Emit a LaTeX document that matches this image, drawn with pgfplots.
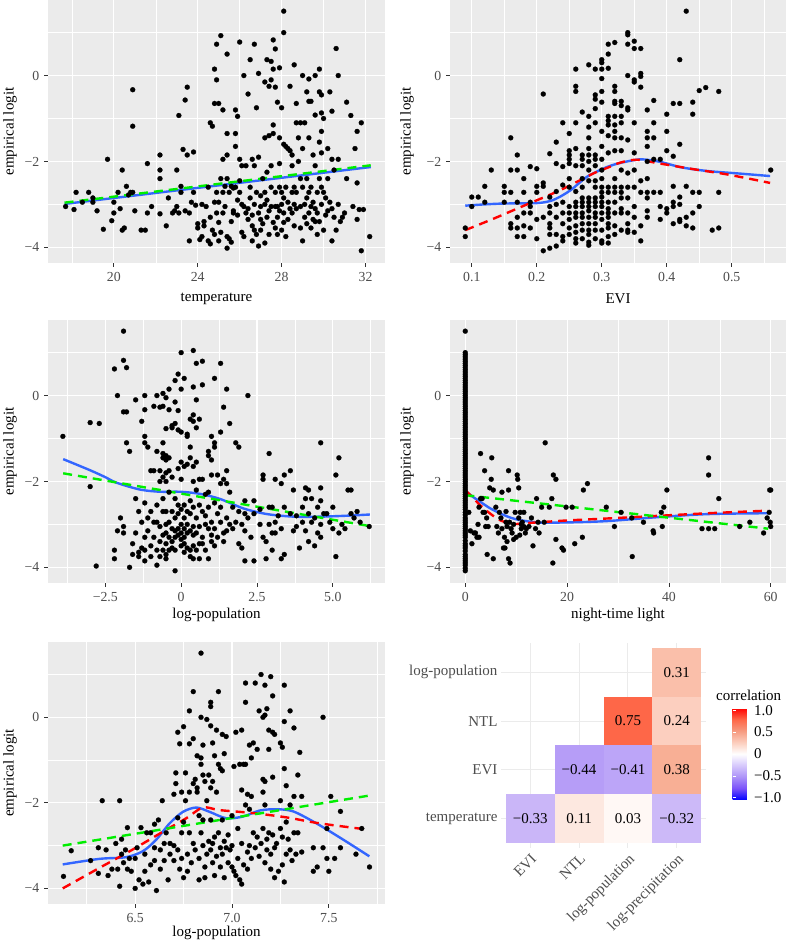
\documentclass[border=0pt]{standalone}
\usepackage{fontspec}
\setmainfont{Liberation Serif}
\usepackage{pgfplots}
\pgfplotsset{compat=1.18}
\definecolor{bggray}{HTML}{EBEBEB}
\definecolor{labgray}{HTML}{4D4D4D}
\definecolor{tickgray}{HTML}{333333}
\definecolor{loessblue}{HTML}{3366FF}
\definecolor{limegreen}{HTML}{00EE00}
\definecolor{hmgrid}{HTML}{EBEBEB}
\definecolor{cA}{HTML}{CAB6F8}
\definecolor{cB}{HTML}{FDE8E0}
\definecolor{cC}{HTML}{FFF8F5}
\definecolor{cD}{HTML}{CCB9F8}
\definecolor{cE}{HTML}{B69DF7}
\definecolor{cF}{HTML}{BCA5F8}
\definecolor{cG}{HTML}{F8AF95}
\definecolor{cH}{HTML}{FE6748}
\definecolor{cI}{HTML}{FCCFBF}
\definecolor{cJ}{HTML}{FABFAA}
\newcommand{\tickfont}{\fontsize{13.8}{15}\selectfont}
\newcommand{\titlefont}{\fontsize{15}{17}\selectfont}
\newcommand{\hmfont}{\fontsize{15}{17}\selectfont}
\pgfplotsset{
  scat/.style={scale only axis, anchor=south west,
    axis background/.style={fill=bggray},
    axis line style={draw=none},
    grid=both,
    major grid style={white, line width=1.1pt},
    minor grid style={white, line width=0.55pt},
    tick align=outside, tick pos=left,
    major tick length=3.6pt, minor tick length=0pt,
    tick style={color=tickgray, line width=0.75pt},
    ticklabel style={font=\tickfont, text=labgray},
    xticklabel style={yshift=-2.5pt},
    yticklabel style={xshift=-1.5pt},
    ymin=-4.365, ymax=1.76,
    ytick={-4,-2,0}, yticklabels={−4,−2,0}, minor ytick={-3,-1,1},
    ylabel={empirical logit},
    label style={font=\titlefont, text=black},
    ylabel style={anchor=center},
    xlabel style={anchor=center},
  },
  pts/.style={only marks, mark=*, mark size=2.5pt, mark options={draw=black, fill=black, line width=0.2pt}},
  loess/.style={no marks, color=loessblue, line width=2.4pt},
  rdash/.style={no marks, color=red, line width=2.4pt, dash pattern=on 9pt off 6pt},
  gdash/.style={no marks, color=limegreen, line width=2.4pt, dash pattern=on 9pt off 6pt},
}
\begin{document}
\begin{tikzpicture}[x=1pt,y=1pt]
\path[use as bounding box] (0,0) rectangle (786,942);

% ---------------- Panel 1: temperature
\begin{axis}[scat, at={(48pt,679pt)}, width=337pt, height=263pt,
  xmin=16.86, xmax=32.93, xtick={20,24,28,32}, xticklabels={20,24,28,32},
  minor xtick={18,22,26,30}, xlabel={temperature},
  xlabel style={at={(axis description cs:0.5,-0.135)}},
  ylabel style={at={(axis description cs:-0.113,0.5)}}]
\addplot[pts] coordinates {
(17.7,-3.05) (18.1,-3.12) (18.2,-2.72) (18.5,-2.95) (18.8,-2.72) (19.0,-2.85) (19.0,-2.95) (19.2,-3.15) (19.5,-3.58) (19.7,-1.95)
(19.9,-3.38) (20.0,-2.95) (20.0,-3.2) (20.2,-2.72) (20.3,-3.1) (20.4,-2.2) (20.4,-3.6) (20.5,-3.55) (20.9,-0.33) (20.6,-2.58)
(20.7,-2.78) (20.8,-2.72) (20.9,-1.18) (20.9,-2.72) (21.0,-3.15) (21.3,-3.6) (21.5,-3.6) (21.6,-2.05) (21.6,-3.2) (21.8,-3.05)
(22.2,-1.85) (22.2,-2.2) (22.2,-2.4) (22.2,-3.22) (22.5,-3.5) (22.6,-2.85) (22.8,-3.2) (22.9,-3.15) (23.0,-3.05) (23.0,-2.2)
(23.1,-0.93) (23.1,-3.2) (23.2,-2.58) (23.2,-2.72) (23.3,-1.72) (23.4,-3.15) (23.4,-0.57) (23.5,-0.27) (23.5,-1.85) (23.6,-3.85)
(23.6,-3.2) (23.7,-2.95) (23.8,-1.78) (23.8,-2.72) (23.9,-3.02) (24.0,-3.45) (24.0,-3.55) (24.1,-3.82) (24.2,-3.0) (24.2,-3.75)
(24.3,-3.5) (24.4,-3.05) (24.5,-3.85) (24.5,-2.6) (24.6,-3.92) (24.6,-3.3) (24.6,-1.1) (24.7,-1.18) (24.7,-3.6) (24.8,-2.95)
(24.8,-0.65) (24.8,0.15) (24.8,-3.7) (24.9,-0.1) (24.9,0.73) (24.9,-2.72) (25.0,-0.65) (25.0,-3.42) (25.0,-3.85) (25.0,-2.95)
(25.1,0.93) (25.1,-3.65) (25.1,-2.4) (25.2,-1.95) (25.2,-2.72) (25.2,-0.8) (25.3,-3.05) (25.3,-2.58) (25.4,0.5) (25.4,-1.35)
(25.4,-1.85) (25.4,-2.4) (25.4,-3.75) (25.4,-4.02) (25.5,-2.72) (25.5,-3.8) (25.6,-2.58) (25.6,-3.88) (25.7,-3.2) (25.7,-2.62)
(25.7,-3.15) (25.8,-0.8) (25.8,-1.35) (25.8,-1.65) (25.8,-2.6) (25.9,-0.95) (25.9,-3.25) (26.0,0.78) (26.0,-1.95) (26.0,-2.45)
(26.1,-3.0) (26.1,-3.65) (26.1,-2.1) (26.2,0.0) (26.2,-3.05) (26.2,-3.75) (26.3,-2.1) (26.3,-3.2) (26.4,-0.43) (26.4,-3.35)
(26.5,-2.85) (26.5,0.37) (26.5,-2.6) (26.6,-3.5) (26.6,-1.95) (26.6,-3.85) (26.7,-3.0) (26.7,-2.1) (26.7,0.73) (26.7,-3.6)
(26.8,-0.75) (26.8,-2.72) (26.8,-3.7) (26.9,-3.97) (26.9,-1.9) (26.9,-3.2) (26.9,0.05) (27.0,-3.6) (27.0,-3.05) (27.0,-2.8)
(27.1,-2.4) (27.1,-3.45) (27.2,-0.15) (27.2,-1.45) (27.2,-3.0) (27.2,-3.9) (27.3,0.37) (27.3,-2.25) (27.3,-2.9) (27.3,-3.3)
(27.4,-1.4) (27.4,-0.25) (27.4,-3.7) (27.5,-0.1) (27.5,0.33) (27.5,-2.1) (27.5,-2.6) (27.5,-3.05) (27.6,-1.15) (27.6,-1.35)
(27.6,0.15) (27.6,0.83) (27.6,-3.42) (27.7,0.62) (27.7,-0.27) (27.7,-3.05) (27.7,-2.72) (27.8,-0.62) (27.8,-3.7) (27.8,-3.3)
(27.9,0.18) (27.9,-1.45) (27.9,-2.05) (27.9,-2.6) (27.9,-3.15) (28.0,-0.75) (28.0,-3.6) (28.0,-2.72) (28.0,-3.0) (28.1,1.5)
(28.1,1.0) (28.1,-1.6) (28.1,-3.2) (28.1,-3.42) (28.2,-1.65) (28.2,-2.6) (28.2,-3.75) (28.3,-1.7) (28.3,-2.95) (28.4,-0.25)
(28.4,-1.75) (28.4,-3.1) (28.5,-2.1) (28.5,-1.85) (28.5,-2.72) (28.6,0.25) (28.6,-3.0) (28.6,-3.5) (28.7,-1.1) (28.7,-0.65)
(28.7,-2.72) (28.7,-3.1) (28.8,-1.45) (28.8,-2.0) (28.9,-1.1) (28.9,-3.55) (28.9,-2.4) (29.0,0.0) (29.0,-1.7) (29.0,-2.6)
(29.0,-3.85) (29.1,-1.1) (29.1,-3.0) (29.1,-3.3) (29.2,-0.38) (29.2,-2.4) (29.2,-3.45) (29.3,-0.08) (29.3,-1.45) (29.3,-0.6)
(29.3,-2.72) (29.3,-3.2) (29.4,-0.6) (29.4,-2.6) (29.4,-3.05) (29.4,-3.55) (29.5,-1.85) (29.5,-2.95) (29.5,-3.35) (29.6,0.0)
(29.6,-0.92) (29.6,-2.1) (29.6,-3.1) (29.7,-3.7) (29.7,-2.72) (29.8,0.15) (29.8,-0.38) (29.8,-1.55) (29.8,-2.4) (29.8,-3.4)
(29.9,-0.45) (29.9,-0.87) (29.9,-1.3) (29.9,-1.8) (29.9,-2.6) (29.9,-3.0) (30.0,-1.0) (30.0,-2.72) (30.0,-3.6) (30.1,-3.25)
(30.2,-1.7) (30.2,-2.4) (30.2,-3.15) (30.3,-0.38) (30.3,-2.95) (30.4,-1.95) (30.4,-0.83) (30.4,-3.85) (30.5,-2.2) (30.5,-3.3)
(30.6,0.63) (30.6,-3.6) (30.7,0.0) (30.7,-1.95) (30.7,-3.0) (30.8,-3.4) (31.0,-3.2) (31.1,-0.62) (31.1,-2.4) (31.3,-0.93)
(31.4,-3.05) (31.5,-1.7) (31.6,-1.3) (31.6,-2.5) (31.6,-3.35) (31.7,-3.12) (31.8,-1.1) (31.8,-4.08) (31.9,-3.12) (32.2,-3.75)
(24.3,-3.4) (25.2,-3.2) (25.9,-2.9) (26.4,-3.1) (26.6,-3.25) (27.0,-3.35) (27.4,-3.15) (27.7,-3.55) (28.3,-3.35) (28.5,-3.2)
(28.9,-3.05) (29.2,-2.85) (29.6,-3.4) (30.1,-2.85) (30.4,-3.1) (28.1,-2.85) (27.2,-2.72) (26.0,-2.72) (25.6,-3.4) (24.9,-3.2)
(27.8,-3.05) (28.6,-2.6) (29.7,-3.2) (30.9,-3.3)
};
\addplot[loess] coordinates {(17.65,-2.99) (32.25,-2.13)};
\addplot[gdash] coordinates {(17.65,-2.96) (32.25,-2.09)};
\end{axis}

% ---------------- Panel 2: EVI
\begin{axis}[scat, at={(450pt,679pt)}, width=336pt, height=263pt,
  xmin=0.0665, xmax=0.5835, xtick={0.1,0.2,0.3,0.4,0.5}, xticklabels={0.1,0.2,0.3,0.4,0.5},
  minor xtick={0.15,0.25,0.35,0.45,0.55}, xlabel={EVI},
  xlabel style={at={(axis description cs:0.5,-0.135)}},
  ylabel style={at={(axis description cs:-0.128,0.5)}}]
\addplot[pts] coordinates {
(0.09,-3.55) (0.09,-3.75) (0.10,-2.83) (0.10,-3.05) (0.11,-2.83) (0.12,-2.58) (0.12,-2.95) (0.13,-2.2) (0.15,-2.58) (0.15,-2.72)
(0.15,-2.95) (0.16,-1.45) (0.16,-2.2) (0.16,-2.72) (0.16,-3.45) (0.16,-3.55) (0.17,-1.85) (0.17,-2.2) (0.17,-2.95) (0.17,-3.3)
(0.17,-3.55) (0.17,-3.75) (0.18,-2.4) (0.18,-2.72) (0.18,-3.2) (0.18,-3.5) (0.18,-3.75) (0.19,-2.12) (0.19,-2.95) (0.19,-3.05)
(0.19,-3.2) (0.19,-3.55) (0.20,-2.17) (0.20,-2.58) (0.20,-2.72) (0.20,-3.35) (0.20,-3.8) (0.21,-0.43) (0.21,-2.5) (0.21,-2.58)
(0.21,-3.3) (0.21,-4.08) (0.22,-1.82) (0.22,-2.83) (0.22,-3.05) (0.22,-3.2) (0.22,-3.45) (0.22,-3.55) (0.22,-3.7) (0.22,-4.02)
(0.23,-1.55) (0.23,-2.05) (0.23,-2.7) (0.23,-3.0) (0.23,-3.3) (0.23,-3.7) (0.23,-3.97) (0.24,-1.1) (0.24,-2.12) (0.24,-2.55)
(0.24,-2.95) (0.24,-3.2) (0.24,-3.45) (0.24,-3.75) (0.24,-3.85) (0.25,-1.35) (0.25,-1.75) (0.25,-1.85) (0.25,-1.95) (0.25,-2.05)
(0.25,-2.4) (0.25,-2.6) (0.25,-3.05) (0.25,-3.2) (0.25,-3.35) (0.25,-3.55) (0.25,-3.7) (0.26,0.15) (0.26,-0.25) (0.26,-0.37)
(0.26,-1.1) (0.26,-1.7) (0.26,-2.1) (0.26,-2.7) (0.26,-2.95) (0.26,-3.05) (0.26,-3.2) (0.26,-3.3) (0.26,-3.5) (0.26,-3.65)
(0.26,-3.8) (0.26,-3.9) (0.27,-0.85) (0.27,-1.85) (0.27,-1.95) (0.27,-2.1) (0.27,-2.4) (0.27,-2.6) (0.27,-2.85) (0.27,-2.95)
(0.27,-3.05) (0.27,-3.2) (0.27,-3.3) (0.27,-3.45) (0.27,-3.6) (0.27,-3.8) (0.28,0.25) (0.28,-0.95) (0.28,-1.2) (0.28,-1.45)
(0.28,-1.7) (0.28,-1.85) (0.28,-2.0) (0.28,-2.2) (0.28,-2.45) (0.28,-2.85) (0.28,-2.95) (0.28,-3.05) (0.28,-3.15) (0.28,-3.3)
(0.28,-3.45) (0.28,-3.6) (0.28,-3.7) (0.28,-3.88) (0.28,-3.95) (0.29,0.15) (0.29,-0.45) (0.29,-0.55) (0.29,-0.77) (0.29,-1.1)
(0.29,-1.85) (0.29,-1.95) (0.29,-2.1) (0.29,-2.45) (0.29,-2.6) (0.29,-2.85) (0.29,-2.95) (0.29,-3.05) (0.29,-3.2) (0.29,-3.3)
(0.29,-3.45) (0.29,-3.6) (0.29,-3.8) (0.30,0.37) (0.30,0.3) (0.30,0.15) (0.30,-0.07) (0.30,-0.37) (0.30,-0.62) (0.30,-1.3)
(0.30,-1.65) (0.30,-1.95) (0.30,-2.2) (0.30,-2.4) (0.30,-2.6) (0.30,-2.72) (0.30,-2.83) (0.30,-2.95) (0.30,-3.05) (0.30,-3.2)
(0.30,-3.35) (0.30,-3.6) (0.30,-3.85) (0.30,-3.9) (0.31,0.73) (0.31,0.5) (0.31,0.17) (0.31,-0.95) (0.31,-1.05) (0.31,-1.15)
(0.31,-1.4) (0.31,-1.8) (0.31,-2.6) (0.31,-2.72) (0.31,-2.95) (0.31,-3.1) (0.31,-3.2) (0.31,-3.3) (0.31,-3.45) (0.31,-3.55)
(0.31,-3.75) (0.31,-3.9) (0.32,0.77) (0.32,-0.25) (0.32,-0.37) (0.32,-0.6) (0.32,-0.65) (0.32,-0.95) (0.32,-1.15) (0.32,-1.3)
(0.32,-1.45) (0.32,-1.75) (0.32,-2.4) (0.32,-2.6) (0.32,-2.72) (0.32,-2.95) (0.32,-3.2) (0.32,-3.5) (0.32,-3.7) (0.33,-0.6)
(0.33,-0.7) (0.33,-0.95) (0.33,-1.1) (0.33,-1.45) (0.33,-1.75) (0.33,-2.2) (0.33,-2.6) (0.33,-2.72) (0.33,-2.85) (0.33,-3.1)
(0.33,-3.2) (0.33,-3.6) (0.34,1.0) (0.34,0.95) (0.34,0.73) (0.34,0.0) (0.34,-0.75) (0.34,-0.8) (0.34,-1.5) (0.34,-2.27)
(0.34,-2.6) (0.34,-2.85) (0.34,-3.2) (0.34,-3.45) (0.34,-3.6) (0.34,-3.65) (0.35,0.8) (0.35,0.63) (0.35,-0.1) (0.35,-0.15)
(0.35,-1.1) (0.35,-1.8) (0.35,-2.2) (0.35,-2.6) (0.35,-3.05) (0.35,-3.3) (0.35,-3.65) (0.36,0.63) (0.36,0.05) (0.36,-0.02)
(0.36,-0.27) (0.36,-2.45) (0.36,-2.72) (0.36,-3.5) (0.36,-3.85) (0.37,-0.8) (0.37,-1.3) (0.37,-1.45) (0.37,-1.65) (0.37,-2.0)
(0.37,-2.4) (0.37,-2.72) (0.37,-2.85) (0.37,-3.15) (0.37,-3.3) (0.38,-0.58) (0.38,-1.1) (0.38,-1.45) (0.38,-1.95) (0.38,-2.72)
(0.39,-1.95) (0.39,-2.72) (0.39,-3.05) (0.39,-3.35) (0.40,-0.9) (0.40,-1.3) (0.40,-1.75) (0.40,-3.1) (0.40,-3.2) (0.41,-0.65)
(0.41,-1.88) (0.41,-2.58) (0.41,-2.95) (0.41,-3.05) (0.41,-3.45) (0.42,0.37) (0.42,-0.65) (0.42,-1.6) (0.42,-2.83) (0.42,-3.0)
(0.42,-3.35) (0.42,-3.4) (0.43,1.5) (0.43,-2.58) (0.43,-3.3) (0.43,-3.5) (0.44,-0.62) (0.44,-0.9) (0.44,-2.72) (0.44,-3.2)
(0.44,-3.55) (0.45,-0.35) (0.45,-2.72) (0.45,-3.05) (0.46,-0.28) (0.47,-3.6) (0.48,-0.37) (0.48,-2.72) (0.48,-3.55) (0.56,-2.2)
};
\addplot[loess, smooth] coordinates {(0.09,-3.03) (0.12,-3.0) (0.15,-2.98) (0.2,-2.97) (0.221,-2.92) (0.236,-2.82) (0.252,-2.67) (0.264,-2.52) (0.277,-2.36) (0.292,-2.24) (0.308,-2.13) (0.322,-2.06) (0.339,-2.0) (0.359,-1.95) (0.374,-1.97) (0.39,-2.01) (0.405,-2.07) (0.42,-2.13) (0.44,-2.18) (0.467,-2.23) (0.51,-2.28) (0.559,-2.34)};
\addplot[rdash, smooth] coordinates {(0.09,-3.6) (0.134,-3.33) (0.185,-3.0) (0.236,-2.67) (0.287,-2.28) (0.31,-2.14) (0.328,-2.03) (0.354,-1.96) (0.39,-2.05) (0.441,-2.18) (0.492,-2.30) (0.559,-2.5)};
\end{axis}

% ---------------- Panel 3: log-population
\begin{axis}[scat, at={(48pt,359pt)}, width=337pt, height=263pt,
  xmin=-4.39, xmax=6.72, xtick={-2.5,0,2.5,5}, xticklabels={−2.5,0,2.5,5.0},
  minor xtick={-3.75,-1.25,1.25,3.75,6.25}, xlabel={log-population},
  xlabel style={at={(axis description cs:0.5,-0.12)}},
  ylabel style={at={(axis description cs:-0.113,0.5)}}]
\addplot[pts] coordinates {
(-3.9,-0.95) (-3.0,-0.63) (-3.0,-2.12) (-2.7,-0.65) (-2.8,-3.97) (-2.2,0.62) (-2.2,-3.6) (-2.2,-3.8) (-2.1,0.0) (-2.1,-3.15)
(-2.0,-2.85) (-1.9,1.5) (-1.9,0.82) (-1.9,-0.38) (-1.9,-3.05) (-1.9,-3.2) (-1.8,0.65) (-1.8,-0.38) (-1.8,-1.1) (-1.7,-1.3)
(-1.7,-4.0) (-1.5,-0.1) (-1.5,-2.4) (-1.5,-3.2) (-1.6,-3.45) (-1.6,-3.7) (-1.4,-2.7) (-1.4,-3.65) (-1.4,-3.75) (-1.3,-0.6)
(-1.3,-2.95) (-1.3,-3.55) (-1.2,0.0) (-1.2,-0.33) (-1.2,-0.95) (-1.2,-1.1) (-1.2,-2.5) (-1.2,-3.3) (-1.2,-3.6) (-1.2,-3.85)
(-1.1,-1.2) (-1.1,-2.85) (-1.1,-3.15) (-1.0,-1.75) (-1.0,-2.7) (-1.0,-3.5) (-1.0,-3.75) (-0.9,-0.25) (-0.9,-1.75) (-0.9,-2.95)
(-0.9,-3.3) (-0.8,0.0) (-0.8,-1.3) (-0.8,-2.55) (-0.8,-2.95) (-0.8,-3.6) (-0.8,-3.95) (-0.7,-0.27) (-0.7,-1.75) (-0.7,-2.0)
(-0.7,-3.05) (-0.7,-3.4) (-0.7,-3.75) (-0.6,0.05) (-0.6,-0.25) (-0.6,-1.1) (-0.6,-1.35) (-0.6,-1.45) (-0.6,-1.9) (-0.6,-2.4)
(-0.6,-2.7) (-0.6,-3.25) (-0.6,-3.6) (-0.5,-0.05) (-0.5,-0.77) (-0.5,-1.4) (-0.5,-1.5) (-0.5,-1.8) (-0.5,-2.0) (-0.5,-2.7)
(-0.5,-3.0) (-0.5,-3.2) (-0.5,-3.45) (-0.5,-3.7) (-0.5,-3.8) (-0.4,0.15) (-0.4,-0.33) (-0.4,-1.45) (-0.4,-1.75) (-0.4,-2.25)
(-0.4,-2.95) (-0.4,-3.3) (-0.4,-3.6) (-0.3,-0.7) (-0.3,-0.75) (-0.3,-1.9) (-0.3,-2.7) (-0.3,-3.1) (-0.3,-3.4) (-0.3,-3.55)
(-0.2,0.35) (-0.2,-0.15) (-0.2,-0.65) (-0.2,-2.4) (-0.2,-2.85) (-0.2,-3.15) (-0.2,-3.3) (-0.2,-3.6) (-0.2,-4.08) (-0.1,0.5)
(-0.1,-0.35) (-0.1,-0.8) (-0.1,-1.7) (-0.1,-2.55) (-0.1,-2.75) (-0.1,-3.1) (-0.1,-3.25) (0.0,0.15) (0.0,-0.85) (0.0,-1.55)
(0.0,-1.95) (0.0,-2.65) (0.0,-3.0) (0.0,-3.2) (0.0,-3.35) (0.0,-3.5) (0.0,1.0) (0.1,-1.65) (0.1,-2.55) (0.1,-2.85)
(0.1,-3.1) (0.1,-3.3) (0.1,-3.45) (0.1,-3.65) (0.1,0.4) (0.2,-0.9) (0.2,-0.95) (0.2,-1.6) (0.2,-2.7) (0.2,-3.0)
(0.2,-3.2) (0.2,-3.55) (0.3,-0.55) (0.3,-1.2) (0.3,-1.45) (0.3,-2.45) (0.3,-2.75) (0.3,-3.15) (0.3,-3.6) (0.3,-3.75)
(0.4,1.05) (0.4,0.2) (0.4,-0.45) (0.4,-0.6) (0.4,-1.65) (0.4,-2.0) (0.4,-2.6) (0.4,-3.05) (0.4,-3.25) (0.4,-3.5)
(0.4,-3.8) (0.5,0.75) (0.5,-0.1) (0.5,-0.75) (0.5,-1.55) (0.5,-2.2) (0.5,-2.85) (0.5,-3.2) (0.5,-3.6) (0.6,-0.55)
(0.6,-1.95) (0.6,-2.55) (0.6,-3.05) (0.6,-3.45) (0.6,-3.8) (0.7,0.8) (0.7,0.25) (0.7,-1.95) (0.7,-2.7) (0.7,-3.3)
(0.7,-3.45) (0.8,-2.3) (0.8,-2.8) (0.8,-3.0) (0.8,-3.6) (0.9,-1.3) (0.9,-1.4) (0.9,-2.25) (0.9,-2.6) (0.9,-3.1)
(0.9,-3.8) (1.0,-0.95) (1.0,-1.5) (1.0,-1.85) (1.0,-2.95) (1.0,-3.25) (1.0,-3.4) (1.1,0.4) (1.1,-1.1) (1.1,-1.2)
(1.1,-2.5) (1.1,-3.1) (1.1,-3.5) (1.2,-1.85) (1.2,-2.75) (1.2,-3.3) (1.3,0.75) (1.3,-0.85) (1.3,-2.05) (1.3,-2.6)
(1.3,-2.95) (1.4,-0.27) (1.4,-1.95) (1.4,-3.2) (1.4,-3.4) (1.5,0.15) (1.5,-1.75) (1.5,-2.05) (1.5,-2.85) (1.5,-3.15)
(1.6,-0.65) (1.6,-2.25) (1.6,-3.0) (1.7,-2.6) (1.7,-3.1) (1.8,-1.1) (1.8,-2.95) (1.9,-1.2) (1.9,-2.7) (1.9,-3.45)
(2.0,-3.0) (2.0,-3.55) (2.1,-2.45) (2.1,-2.75) (2.1,-3.15) (2.1,-3.85) (2.2,0.0) (2.2,-2.85) (2.3,-3.3) (2.4,-2.45)
(2.4,-2.75) (2.4,-3.85) (2.6,-2.65) (2.6,-3.0) (2.7,-1.85) (2.7,-1.95) (2.7,-3.3) (2.8,-3.4) (2.8,-3.8) (2.9,-2.6)
(2.9,-3.0) (2.9,-1.35) (3.0,-2.6) (3.0,-3.2) (3.0,-3.6) (3.1,-1.95) (3.1,-2.95) (3.1,-3.2) (3.2,-2.8) (3.3,-2.05)
(3.3,-3.1) (3.3,-3.8) (3.4,-1.85) (3.4,-2.6) (3.4,-3.7) (3.6,-1.75) (3.6,-2.75) (3.7,-2.2) (3.7,-3.15) (3.8,-2.8)
(3.8,-3.05) (3.9,-3.55) (4.0,-2.6) (4.0,-2.95) (4.1,-2.15) (4.1,-2.4) (4.1,-3.15) (4.2,-2.2) (4.2,-2.75) (4.2,-3.4)
(4.3,-2.4) (4.3,-2.95) (4.4,-3.5) (4.4,-2.85) (4.5,-2.6) (4.5,-3.2) (4.6,-1.1) (4.6,-2.15) (4.6,-2.45) (4.6,-3.0)
(4.6,-3.3) (4.7,-2.75) (4.8,-2.75) (4.9,-2.95) (5.0,-2.6) (5.0,-3.1) (5.1,-1.85) (5.1,-3.75) (5.2,-1.45) (5.2,-3.2)
(5.3,-3.0) (5.4,-3.1) (5.5,-2.2) (5.6,-2.2) (5.6,-2.75) (5.7,-2.85) (5.8,-2.7) (5.9,-2.95) (6.2,-3.05)
};
\addplot[loess, smooth] coordinates {(-3.89,-1.48) (-3.0,-1.74) (-2.5,-1.9) (-2.13,-2.03) (-1.35,-2.19) (-0.69,-2.24) (-0.03,-2.24) (0.63,-2.29) (1.29,-2.41) (2.06,-2.63) (2.83,-2.76) (3.71,-2.82) (4.59,-2.82) (5.4,-2.8) (6.22,-2.77)};
\addplot[gdash] coordinates {(-3.89,-1.81) (6.3,-3.05)};
\end{axis}

% ---------------- Panel 4: night-time light
\begin{axis}[scat, at={(450pt,359pt)}, width=336pt, height=263pt,
  xmin=-3, xmax=63, xtick={0,20,40,60}, xticklabels={0,20,40,60},
  minor xtick={10,30,50}, xlabel={night-time light},
  xlabel style={at={(axis description cs:0.5,-0.12)}},
  ylabel style={at={(axis description cs:-0.128,0.5)}}]
\addplot[pts] coordinates {
(0,-4.08) (0,-4.02) (0,-3.95) (0,-3.9) (0,-3.85) (0,-3.8) (0,-3.75) (0,-3.7) (0,-3.62) (0,-3.55) (0,-3.5) (0,-3.45) (0,-3.38)
(0,-3.3) (0,-3.25) (0,-3.2) (0,-3.15) (0,-3.1) (0,-3.05) (0,-3.0) (0,-2.95) (0,-2.9) (0,-2.85) (0,-2.78) (0,-2.72) (0,-2.65)
(0,-2.6) (0,-2.55) (0,-2.5) (0,-2.45) (0,-2.4) (0,-2.35) (0,-2.3) (0,-2.25) (0,-2.2) (0,-2.15) (0,-2.1) (0,-2.05) (0,-2.0)
(0,-1.95) (0,-1.9) (0,-1.85) (0,-1.8) (0,-1.75) (0,-1.7) (0,-1.65) (0,-1.6) (0,-1.55) (0,-1.5) (0,-1.45) (0,-1.4) (0,-1.35)
(0,-1.3) (0,-1.25) (0,-1.2) (0,-1.15) (0,-1.1) (0,-1.05) (0,-1.0) (0,-0.95) (0,-0.9) (0,-0.85) (0,-0.8) (0,-0.75) (0,-0.7)
(0,-0.65) (0,-0.6) (0,-0.55) (0,-0.5) (0,-0.45) (0,-0.4) (0,-0.35) (0,-0.3) (0,-0.25) (0,-0.2) (0,-0.15) (0,-0.1) (0,-0.05)
(0,0) (0,0.05) (0,0.1) (0,0.15) (0,0.2) (0,0.25) (0,0.3) (0,0.35) (0,0.4) (0,0.45) (0,0.5) (0,0.55) (0,0.6) (0,0.65) (0,0.7)
(0,0.75) (0,0.8) (0,0.85) (0,0.9) (0,0.95) (0,1.0) (0,1.5)
(0.7,-2.72) (1.0,-3.15) (1.3,-3.45) (1.7,-3.2) (2.0,-3.2) (2.3,-3.3) (2.5,-3.0) (2.7,-3.3) (2.7,-2.6) (3.0,-2.4)
(3.0,-1.35) (3.3,-2.4) (3.5,-2.72) (3.8,-1.75) (3.8,-2.72) (4.0,-3.05) (4.2,-2.85) (4.3,-3.7) (4.5,-3.05) (4.8,-2.15)
(5.1,-1.95) (5.2,-1.45) (5.5,-2.2) (5.5,-3.8) (6.0,-2.6) (6.2,-3.05) (6.5,-3.2) (6.7,-2.72) (7.0,-2.85) (7.2,-2.25)
(7.2,-3.1) (7.5,-3.55) (7.7,-3.3) (7.8,-3.55) (8.0,-2.95) (8.0,-2.7) (8.2,-3.05) (8.2,-3.4) (8.5,-1.75) (8.5,-2.2)
(8.5,-3.8) (8.8,-3.9) (8.7,-2.95) (9.0,-3.1) (9.2,-3.2) (9.5,-3.0) (9.5,-3.35) (9.8,-2.72) (10.0,-3.3) (10.2,-1.85)
(10.3,-1.95) (10.5,-2.15) (10.5,-2.85) (10.7,-3.25) (10.8,-2.72) (11.0,-3.0) (11.0,-3.1) (11.2,-2.95) (11.5,-2.72) (11.5,-3.05)
(11.8,-3.2) (12.0,-3.1) (12.5,-3.05) (13.0,-2.85) (13.3,-3.5) (13.8,-3.1) (14.0,-2.4) (14.3,-2.95) (14.5,-3.2) (15.0,-2.6)
(15.7,-1.1) (15.5,-2.95) (16.5,-2.6) (17.0,-2.4) (17.3,-1.85) (17.2,-3.9) (17.8,-1.95) (17.8,-3.35) (19.0,-3.55) (19.3,-3.6)
(19.8,-2.6) (21.0,-2.6) (21.5,-3.45) (23.0,-3.3) (23.2,-2.2) (24.0,-2.05) (27.7,-2.6) (29.3,-3.05) (30.6,-2.72) (32.7,-2.85)
(32.8,-3.75) (35.0,-2.95) (36.9,-3.15) (37.0,-3.2) (38.5,-2.72) (38.7,-3.05) (39.0,-2.6) (39.6,-2.2) (46.5,-3.1) (47.8,-1.45)
(47.8,-1.85) (47.8,-3.1) (49.0,-3.1) (49.8,-2.4) (53.9,-3.05) (55.9,-2.95) (58.6,-3.2) (59.3,-2.85) (59.7,-2.72) (59.8,-2.2)
(59.9,-2.95) (60.0,-3.05) (60.0,-2.2)
};
\addplot[loess, smooth] coordinates {(0,-2.22) (1.5,-2.36) (2.9,-2.47) (4.8,-2.62) (6.8,-2.74) (8.8,-2.84) (10.7,-2.9) (13,-2.94) (15.3,-2.96) (21.8,-2.95) (28.3,-2.92) (38,-2.83) (47.8,-2.76) (59.5,-2.74)};
\addplot[rdash, smooth] coordinates {(0,-2.2) (1.5,-2.38) (2.9,-2.55) (4.8,-2.74) (6.8,-2.9) (9.4,-2.99) (13.3,-2.96) (19.8,-2.91) (28.3,-2.86) (38,-2.8) (47.8,-2.74) (59.5,-2.68)};
\addplot[gdash] coordinates {(0,-2.32) (59.5,-3.1)};
\end{axis}

% ---------------- Panel 5: log-population (second)
\begin{axis}[scat, at={(48pt,38pt)}, width=337pt, height=262pt,
  xmin=6.05, xmax=7.79, xtick={6.5,7.0,7.5}, xticklabels={6.5,7.0,7.5},
  minor xtick={6.25,6.75,7.25,7.75}, xlabel={log-population},
  xlabel style={at={(axis description cs:0.5,-0.112)}},
  ylabel style={at={(axis description cs:-0.113,0.5)}}]
\addplot[pts] coordinates {
(6.13,-3.72) (6.17,-3.12) (6.27,-3.35) (6.31,-3.05) (6.31,-3.65) (6.33,-1.95) (6.35,-3.1) (6.36,-3.7) (6.38,-3.55) (6.4,-2.95)
(6.41,-3.55) (6.42,-3.95) (6.42,-1.95) (6.43,-2.85) (6.43,-3.2) (6.44,-3.4) (6.45,-3.1) (6.46,-2.58) (6.46,-3.55) (6.47,-3.3)
(6.48,-3.6) (6.5,-3.3) (6.5,-4.0) (6.51,-3.05) (6.52,-3.8) (6.53,-2.58) (6.54,-3.9) (6.55,-3.2) (6.55,-3.6) (6.56,-2.7)
(6.57,-3.85) (6.58,-2.7) (6.58,-3.45) (6.6,-2.5) (6.6,-3.05) (6.6,-3.35) (6.61,-4.05) (6.62,-2.4) (6.63,-3.1) (6.63,-3.55)
(6.64,-1.95) (6.65,-2.95) (6.65,-3.35) (6.66,-2.7) (6.67,-3.8) (6.68,-2.95) (6.68,-3.2) (6.7,-1.8) (6.7,-3.0) (6.7,-3.35)
(6.71,-1.3) (6.71,-1.55) (6.72,-0.35) (6.72,-2.35) (6.72,-3.1) (6.73,-0.62) (6.73,-3.55) (6.74,-1.75) (6.74,-2.7) (6.74,-3.3)
(6.75,-0.22) (6.75,-2.45) (6.75,-3.75) (6.76,-1.3) (6.76,-1.95) (6.77,-3.2) (6.77,-3.6) (6.78,0.15) (6.78,-0.62) (6.78,-1.75)
(6.78,-2.7) (6.79,-3.4) (6.8,0.6) (6.8,-0.5) (6.8,-1.55) (6.8,-2.95) (6.81,-3.1) (6.81,-1.45) (6.82,-0.9) (6.82,-1.65)
(6.82,-1.75) (6.83,-2.3) (6.83,-3.3) (6.83,-3.8) (6.84,1.5) (6.84,0.0) (6.84,-0.95) (6.84,-1.1) (6.84,-2.7) (6.85,-0.65)
(6.85,-1.35) (6.85,-2.4) (6.85,-3.0) (6.86,-1.5) (6.86,-3.5) (6.86,-3.75) (6.87,-0.05) (6.87,-1.95) (6.87,-3.2) (6.88,-1.35)
(6.88,-2.9) (6.89,0.35) (6.89,0.25) (6.89,-0.2) (6.89,-1.65) (6.89,-2.4) (6.89,-3.1) (6.9,-0.6) (6.9,-1.5) (6.9,-2.95)
(6.9,-3.4) (6.91,-0.9) (6.91,-2.8) (6.91,-3.7) (6.92,-0.3) (6.92,-1.75) (6.92,-3.25) (6.93,0.6) (6.93,-1.1) (6.93,-2.7)
(6.94,-1.2) (6.94,-3.05) (6.94,-3.5) (6.95,-0.4) (6.95,-1.25) (6.95,-2.4) (6.95,-3.2) (6.96,-0.85) (6.96,-2.9) (6.96,-3.75)
(6.97,-0.45) (6.97,-3.05) (6.98,-2.75) (6.98,-3.4) (6.99,-3.1) (7.0,-2.3) (7.0,-3.0) (7.0,-3.5) (7.01,-1.15) (7.01,-3.6)
(7.02,-0.35) (7.02,-3.7) (7.03,-2.6) (7.03,-3.3) (7.04,-1.1) (7.04,-3.8) (7.05,-0.3) (7.05,-1.7) (7.05,-2.95) (7.05,-3.9)
(7.06,-1.1) (7.06,-3.45) (7.07,0.8) (7.07,0.35) (7.07,-1.1) (7.07,-2.05) (7.08,-1.8) (7.08,-3.15) (7.08,-3.55) (7.09,-0.65)
(7.09,-2.15) (7.09,-3.0) (7.1,-0.95) (7.1,-1.85) (7.1,-3.3) (7.11,-0.6) (7.11,-2.7) (7.12,0.8) (7.12,-3.05) (7.13,-0.75)
(7.13,-2.8) (7.14,0.15) (7.14,-3.25) (7.15,1.0) (7.15,-2.95) (7.16,0.0) (7.16,-1.45) (7.16,-1.75) (7.16,-2.6) (7.17,0.75)
(7.17,0.05) (7.17,-1.5) (7.17,-2.05) (7.17,-3.4) (7.18,0.2) (7.18,-2.85) (7.18,-3.1) (7.19,-0.3) (7.19,-0.75) (7.19,-2.7)
(7.2,0.95) (7.2,-3.2) (7.2,-3.55) (7.21,0.5) (7.21,-0.35) (7.21,-1.4) (7.21,-2.75) (7.22,-0.4) (7.22,-3.05) (7.22,-3.75)
(7.23,-2.95) (7.24,-3.6) (7.25,-0.6) (7.25,-1.95) (7.25,-2.6) (7.26,-0.7) (7.26,-2.8) (7.26,-3.45) (7.27,0.75) (7.27,-0.1)
(7.27,-1.2) (7.27,-3.85) (7.28,-1.6) (7.28,-2.45) (7.28,-3.2) (7.29,-2.85) (7.3,0.15) (7.3,-2.05) (7.3,-3.1) (7.31,-3.35)
(7.32,-0.25) (7.32,-1.85) (7.32,-2.7) (7.33,-3.2) (7.34,-1.35) (7.34,-2.7) (7.35,-0.82) (7.36,-1.85) (7.36,-3.15) (7.42,-3.05)
(7.42,-3.6) (7.44,-3.5) (7.47,0.0) (7.47,-3.05) (7.49,-3.3) (7.49,-2.6) (7.5,-3.6) (7.51,-1.85) (7.53,-3.3) (7.56,-2.2)
(7.56,-3.05) (7.64,-3.2) (7.67,-2.6) (7.71,-3.5)
};
\addplot[loess, smooth] coordinates {(6.126,-3.44) (6.316,-3.31) (6.453,-3.27) (6.54,-3.13) (6.609,-2.86) (6.678,-2.48) (6.747,-2.21) (6.816,-2.11) (6.884,-2.21) (6.97,-2.36) (7.057,-2.32) (7.143,-2.18) (7.229,-2.15) (7.316,-2.2) (7.436,-2.48) (7.574,-2.86) (7.709,-3.25)};
\addplot[rdash, smooth] coordinates {(6.126,-4.0) (6.316,-3.52) (6.488,-3.09) (6.66,-2.63) (6.764,-2.36) (6.85,-2.11) (6.936,-2.17) (7.109,-2.24) (7.281,-2.34) (7.453,-2.48) (7.709,-2.63)};
\addplot[gdash] coordinates {(6.126,-3.0) (7.709,-1.83)};
\end{axis}

% ---------------- Panel 6: correlation heatmap
\begin{axis}[at={(501pt,94pt)}, anchor=south west, scale only axis, width=205pt, height=205pt,
  xmin=0.4, xmax=4.6, ymin=0.4, ymax=4.6,
  axis line style={draw=none},
  xtick={1,2,3,4}, ytick={1,2,3,4},
  xticklabels={EVI,NTL,log-population,log-precipitation},
  yticklabels={temperature,EVI,NTL,log-population},
  grid=major, major grid style={color=hmgrid, line width=0.9pt},
  major tick length=0pt,
  ticklabel style={font=\hmfont, text=labgray},
  xticklabel style={rotate=45, anchor=north east},
  colormap={corr}{rgb255=(0,0,255) rgb255=(122,82,250) rgb255=(172,146,248) rgb255=(214,200,252) rgb255=(255,255,255) rgb255=(252,206,190) rgb255=(246,155,128) rgb255=(254,103,72) rgb255=(255,0,0)},
  point meta min=-1.05, point meta max=1.05,
  colorbar,
  colorbar style={at={(parent axis.south east)}, anchor=south west, xshift=18pt, yshift=48pt,
    scale only axis, width=19pt, height=92pt, grid=none, xtick=\empty,
    ytick={-1,-0.5,0,0.5,1}, yticklabels={−1.0,−0.5,0,0.5,1.0},
    yticklabel style={font=\hmfont, text=black, xshift=-1pt},
    axis line style={draw=none}, major tick length=3.8pt,
    tick style={white, line width=0.7pt}, tick align=inside, yticklabel pos=right},
]
\addplot[draw=none, fill=cA] coordinates {(0.5,0.5) (1.5,0.5) (1.5,1.5) (0.5,1.5)} --cycle;
\addplot[draw=none, fill=cB] coordinates {(1.5,0.5) (2.5,0.5) (2.5,1.5) (1.5,1.5)} --cycle;
\addplot[draw=none, fill=cC] coordinates {(2.5,0.5) (3.5,0.5) (3.5,1.5) (2.5,1.5)} --cycle;
\addplot[draw=none, fill=cD] coordinates {(3.5,0.5) (4.5,0.5) (4.5,1.5) (3.5,1.5)} --cycle;
\addplot[draw=none, fill=cE] coordinates {(1.5,1.5) (2.5,1.5) (2.5,2.5) (1.5,2.5)} --cycle;
\addplot[draw=none, fill=cF] coordinates {(2.5,1.5) (3.5,1.5) (3.5,2.5) (2.5,2.5)} --cycle;
\addplot[draw=none, fill=cG] coordinates {(3.5,1.5) (4.5,1.5) (4.5,2.5) (3.5,2.5)} --cycle;
\addplot[draw=none, fill=cH] coordinates {(2.5,2.5) (3.5,2.5) (3.5,3.5) (2.5,3.5)} --cycle;
\addplot[draw=none, fill=cI] coordinates {(3.5,2.5) (4.5,2.5) (4.5,3.5) (3.5,3.5)} --cycle;
\addplot[draw=none, fill=cJ] coordinates {(3.5,3.5) (4.5,3.5) (4.5,4.5) (3.5,4.5)} --cycle;
\addplot[draw=none, mark=none, nodes near coords, point meta=explicit symbolic,
  nodes near coords align=center,
  every node near coord/.append style={font=\hmfont, text=black, anchor=center}]
  table[meta=lab] {
x y lab
1 1 −0.33
2 1 0.11
3 1 0.03
4 1 −0.32
2 2 −0.44
3 2 −0.41
4 2 0.38
3 3 0.75
4 3 0.24
4 4 0.31
};
\end{axis}
\node[anchor=west, font=\hmfont, inner sep=0pt] at (716,247) {correlation};
\end{tikzpicture}
\end{document}
